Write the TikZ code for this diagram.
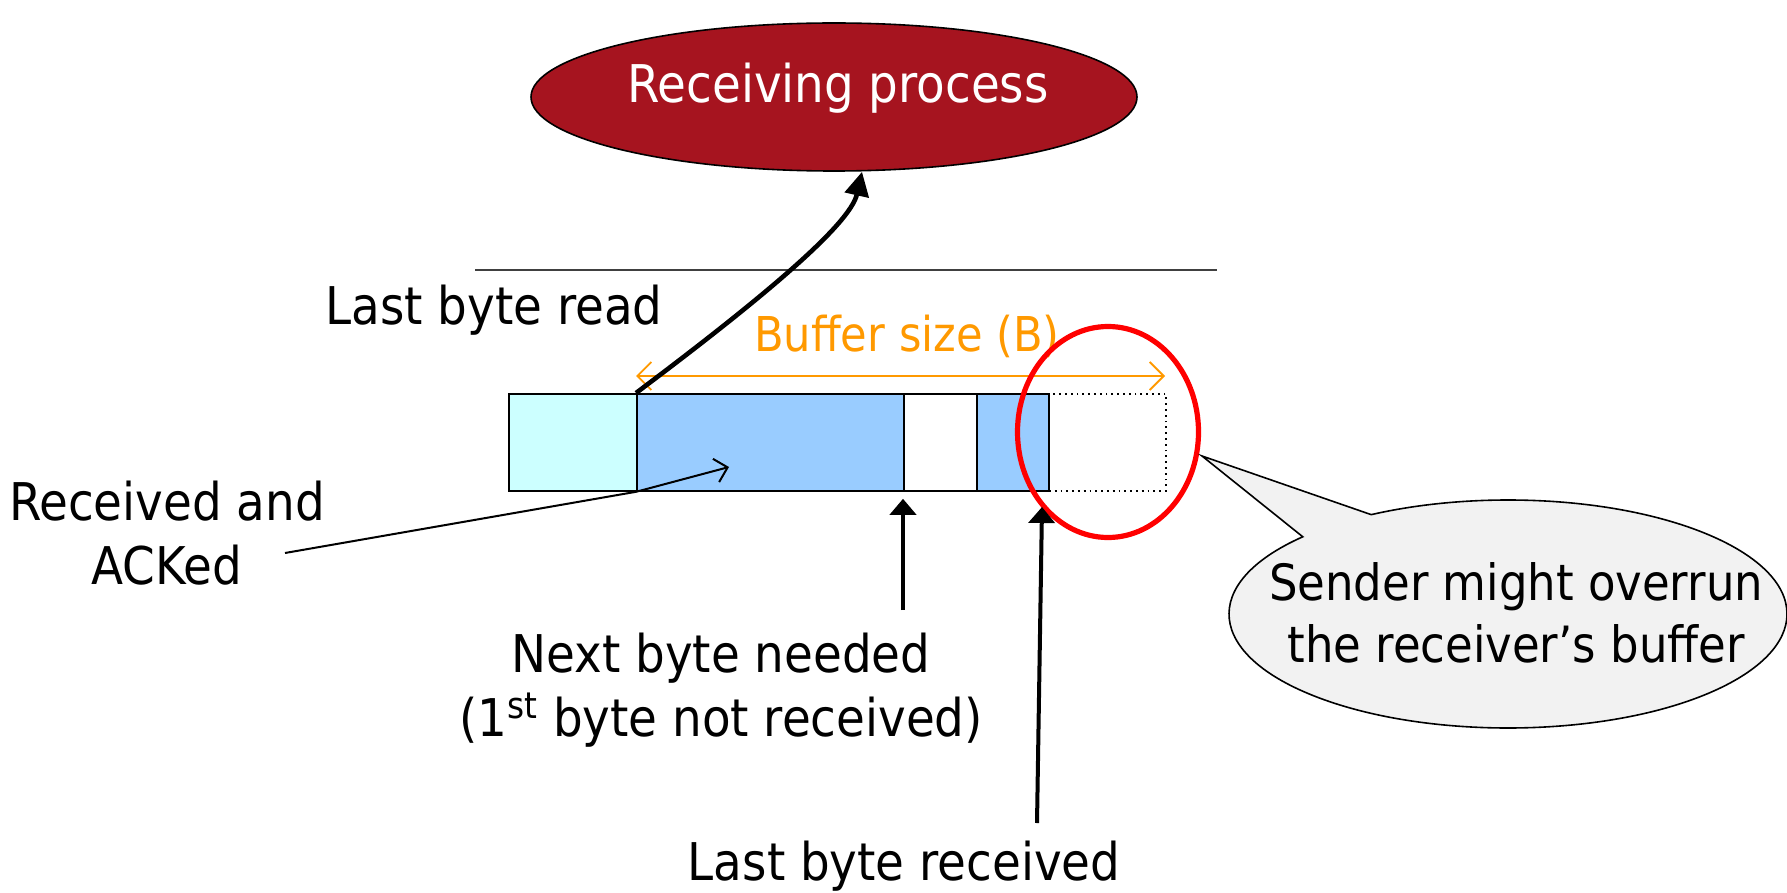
\documentclass[tikz,border=0pt]{standalone}
\usepackage{fontspec}
\setmainfont{DejaVu Sans Condensed}
\usetikzlibrary{arrows.meta,shapes.geometric,shapes.callouts,calc}
\definecolor{procred}{HTML}{A6141F}
\definecolor{cellcyan}{HTML}{CCFFFF}
\definecolor{cellblue}{HTML}{99CCFF}
\definecolor{buforange}{HTML}{FF9900}
\definecolor{calloutgray}{HTML}{F2F2F2}
\begin{document}
\begin{tikzpicture}[x=0.5pt,y=-0.5pt,
  txt/.style={font=\fontsize{26}{32}\selectfont, inner sep=0pt, align=center},
  cell/.style={draw, line width=0.9pt, anchor=north west, minimum height=48.5pt, inner sep=0pt},
  bigarrow/.style={line width=2.3pt, -{Triangle[length=12pt,width=12pt]}},
  vertarrow/.style={line width=2pt, -{Triangle[length=8pt,width=13pt]}},
  thinarrow/.style={line width=1pt, -{Straight Barb[length=6pt,width=12pt]}},
]
\useasboundingbox (0,0) rectangle (1787,893);

% receiving process
\node[ellipse, draw, line width=0.8pt, fill=procred, minimum width=303pt, minimum height=74pt, inner sep=0pt] (proc) at (834,97) {};
\node[txt, text=white, font=\fontsize{26}{31}\selectfont] (procl) at (838,88) {Receiving process};

% horizontal line
\draw[line width=0.8pt, black!75] (475,270) -- (1217,270);

% buffer
\node[cell, dotted, minimum width=58.5pt] (c5) at (1048,393) {};
\node[cell, fill=cellcyan, minimum width=64pt] (c1) at (508,393) {};
\node[cell, fill=cellblue, minimum width=133.5pt] (c2) at (636,393) {};
\node[cell, fill=white, minimum width=36.5pt] (c3) at (903,393) {};
\node[cell, fill=cellblue, minimum width=36pt] (c4) at (976,393) {};

% buffer size
\draw[buforange, line width=0.9pt, {Straight Barb[length=7pt,width=14pt]}-{Straight Barb[length=7pt,width=14pt]}]
  (636,376) coordinate (bsA) -- (1165,376) coordinate (bsB);
\node[txt, text=buforange, font=\fontsize{24}{29}\selectfont] (bs) at (907,336) {Buffer size (B)};

% red ring
\node[ellipse, draw=red, line width=2.6pt, minimum width=90.5pt, minimum height=105.5pt, inner sep=0pt] (ring) at (1108,432) {};

% labels
\node[txt, anchor=west] (lbr) at (325,310) {Last byte read};
\node[txt] (rack) at (167,533) {Received and\\ACKed};
\node[txt] (nbn) at (721,690) {Next byte needed\\(1\textsuperscript{st} byte not received)};
\node[txt] (lbrc) at (904,866) {Last byte received};

% arrows
\coordinate (tipA) at ($(proc.south)+(28,0)$);
\draw[bigarrow] (c2.north west) .. controls (760,300) and (850,225) .. (tipA);

\coordinate (rA) at (285,553);
\coordinate (rB) at (729,467);
\draw[thinarrow] (rA) -- (c2.south west) -- (rB);

\coordinate (nA) at (903,610);
\draw[vertarrow] (nA) -- ($(c3.south west)+(0,7)$);

\coordinate (lA) at (1037,823);
\coordinate (lB) at (1042,507);
\draw[vertarrow] (lA) -- (lB);

% callout
\coordinate (ctip) at (1202,456);
\node[ellipse callout, draw, line width=0.8pt, fill=calloutgray, minimum width=279pt, minimum height=114pt,
      callout absolute pointer={(ctip)}, callout pointer arc=18, inner sep=0pt] (co) at (1508,614) {};
\node[txt, font=\fontsize{25}{31}\selectfont] (cotext) at (1516,613) {Sender might overrun\\the receiver’s buffer};
\end{tikzpicture}
\end{document}
